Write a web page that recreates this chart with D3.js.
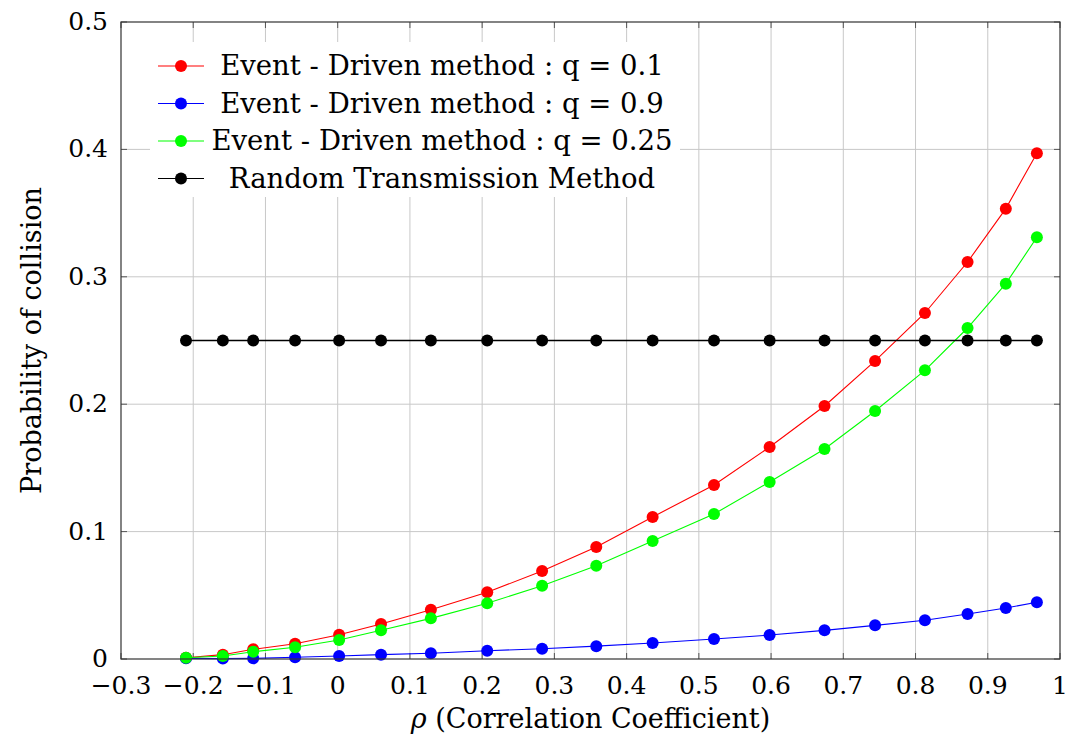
<!DOCTYPE html>
<html>
<head>
<meta charset="utf-8">
<script src="https://cdn.jsdelivr.net/npm/d3@7"></script>
<style>
  body { margin: 0; background: #fff; }
</style>
</head>
<body>
<svg id="chart"></svg>
<script>
// Collision probability vs correlation coefficient

const width = 1070;
const height = 745;
const margin = { top: 22, right: 10, bottom: 86, left: 121 };
const font = "'DejaVu Serif', 'Liberation Serif', serif";

// Data
const rho = [-0.21, -0.159, -0.117, -0.059, 0.002, 0.06, 0.129, 0.207, 0.283, 0.358,
             0.436, 0.521, 0.598, 0.674, 0.744, 0.813, 0.872, 0.925, 0.968];
const q01 = [0.001, 0.0034, 0.0076, 0.012, 0.019, 0.0275, 0.0386, 0.0524, 0.069, 0.088,
             0.1115, 0.1366, 0.1664, 0.1986, 0.234, 0.2716, 0.3116, 0.3535, 0.397];
const q09 = [0.0005, 0.0003, 0.0005, 0.0014, 0.0023, 0.0034, 0.0045, 0.0065, 0.0081, 0.0101,
             0.0126, 0.0157, 0.0188, 0.0225, 0.0264, 0.0304, 0.0353, 0.040, 0.0445];
const q025 = [0.001, 0.0023, 0.0057, 0.0092, 0.0149, 0.0225, 0.0319, 0.0437, 0.0575, 0.0732,
              0.0926, 0.1138, 0.139, 0.1648, 0.1947, 0.2266, 0.2598, 0.2946, 0.331];
const randomTx = [0.25, 0.25, 0.25, 0.25, 0.25, 0.25, 0.25, 0.25, 0.25, 0.25,
                  0.25, 0.25, 0.25, 0.25, 0.25, 0.25, 0.25, 0.25, 0.25];

const xTicks = [-0.3, -0.2, -0.1, 0, 0.1, 0.2, 0.3, 0.4, 0.5, 0.6, 0.7, 0.8, 0.9, 1];
const yTicks = [0, 0.1, 0.2, 0.3, 0.4, 0.5];

const series = [
    { name: "Event - Driven method : q = 0.1", color: "#ff0000", values: q01 },
    { name: "Event - Driven method : q = 0.9", color: "#0000ff", values: q09 },
    { name: "Event - Driven method : q = 0.25", color: "#00ff00", values: q025 },
    { name: "Random Transmission Method", color: "#000000", values: randomTx }
];

const svg = d3.select("#chart").attr("width", width).attr("height", height)
    .attr("font-family", font);

const x = d3.scaleLinear().domain([-0.3, 1]).range([margin.left, width - margin.right]);
const y = d3.scaleLinear().domain([0, 0.5]).range([height - margin.bottom, margin.top]);

const fmt = v => v === 0 ? "0" : (v === 1 ? "1" : d3.format(".1f")(v).replace("-", "\u2212"));

// grid
const grid = svg.append("g").attr("stroke", "#c8c8c8").attr("stroke-width", 1);
xTicks.slice(1, -1).forEach(t => {
    grid.append("line").attr("x1", x(t)).attr("x2", x(t))
        .attr("y1", y(0)).attr("y2", y(0.5));
});
yTicks.slice(1, -1).forEach(t => {
    grid.append("line").attr("x1", x(-0.3)).attr("x2", x(1))
        .attr("y1", y(t)).attr("y2", y(t));
});

// legend background covers the grid
svg.append("rect")
    .attr("x", 150).attr("y", 42)
    .attr("width", 530).attr("height", 155)
    .attr("fill", "#fff");

// ticks on all four sides (inward)
const tickLen = 6;
const ticks = svg.append("g").attr("stroke", "#555").attr("stroke-width", 1);
xTicks.forEach(t => {
    ticks.append("line").attr("x1", x(t)).attr("x2", x(t)).attr("y1", y(0)).attr("y2", y(0) - tickLen);
    ticks.append("line").attr("x1", x(t)).attr("x2", x(t)).attr("y1", y(0.5)).attr("y2", y(0.5) + tickLen);
});
yTicks.forEach(t => {
    ticks.append("line").attr("x1", x(-0.3)).attr("x2", x(-0.3) + tickLen).attr("y1", y(t)).attr("y2", y(t));
    ticks.append("line").attr("x1", x(1)).attr("x2", x(1) - tickLen).attr("y1", y(t)).attr("y2", y(t));
});

// series
const line = d3.line().x((d, i) => x(rho[i])).y(d => y(d));
series.forEach(s => {
    const g = svg.append("g");
    g.append("path")
        .datum(s.values)
        .attr("d", line)
        .attr("fill", "none")
        .attr("stroke", s.color)
        .attr("stroke-width", s.color === "#000000" ? 1.3 : 1.1);
    g.selectAll("circle")
        .data(s.values)
        .join("circle")
        .attr("cx", (d, i) => x(rho[i]))
        .attr("cy", d => y(d))
        .attr("r", 6)
        .attr("fill", s.color);
});

// frame
svg.append("rect")
    .attr("x", x(-0.3)).attr("y", y(0.5))
    .attr("width", x(1) - x(-0.3)).attr("height", y(0) - y(0.5))
    .attr("fill", "none").attr("stroke", "#333").attr("stroke-width", 1.2);

// tick labels
svg.append("g").selectAll("text")
    .data(xTicks)
    .join("text")
    .attr("x", d => x(d))
    .attr("y", y(0) + 35)
    .attr("text-anchor", "middle")
    .attr("font-size", 25)
    .text(fmt);

svg.append("g").selectAll("text")
    .data(yTicks)
    .join("text")
    .attr("x", x(-0.3) - 13)
    .attr("y", d => y(d) + 8)
    .attr("text-anchor", "end")
    .attr("font-size", 25)
    .text(fmt);

// axis labels
svg.append("text")
    .attr("x", (x(-0.3) + x(1)) / 2)
    .attr("y", 728)
    .attr("text-anchor", "middle")
    .attr("font-size", 27)
    .html('<tspan font-style="italic">\u03c1</tspan> (Correlation Coefficient)');

svg.append("text")
    .attr("transform", `translate(41,${(y(0) + y(0.5)) / 2}) rotate(-90)`)
    .attr("text-anchor", "middle")
    .attr("font-size", 27)
    .text("Probability of collision");

// legend entries
const legend = svg.append("g");
series.forEach((s, i) => {
    const ly = 66 + i * 37.5;
    legend.append("line")
        .attr("x1", 158).attr("x2", 204).attr("y1", ly).attr("y2", ly)
        .attr("stroke", s.color).attr("stroke-width", 1.1);
    legend.append("circle")
        .attr("cx", 181).attr("cy", ly).attr("r", 6).attr("fill", s.color);
    legend.append("text")
        .attr("x", 442).attr("y", ly + 9)
        .attr("text-anchor", "middle")
        .attr("font-size", 27.5)
        .text(s.name);
});
</script>
</body>
</html>
